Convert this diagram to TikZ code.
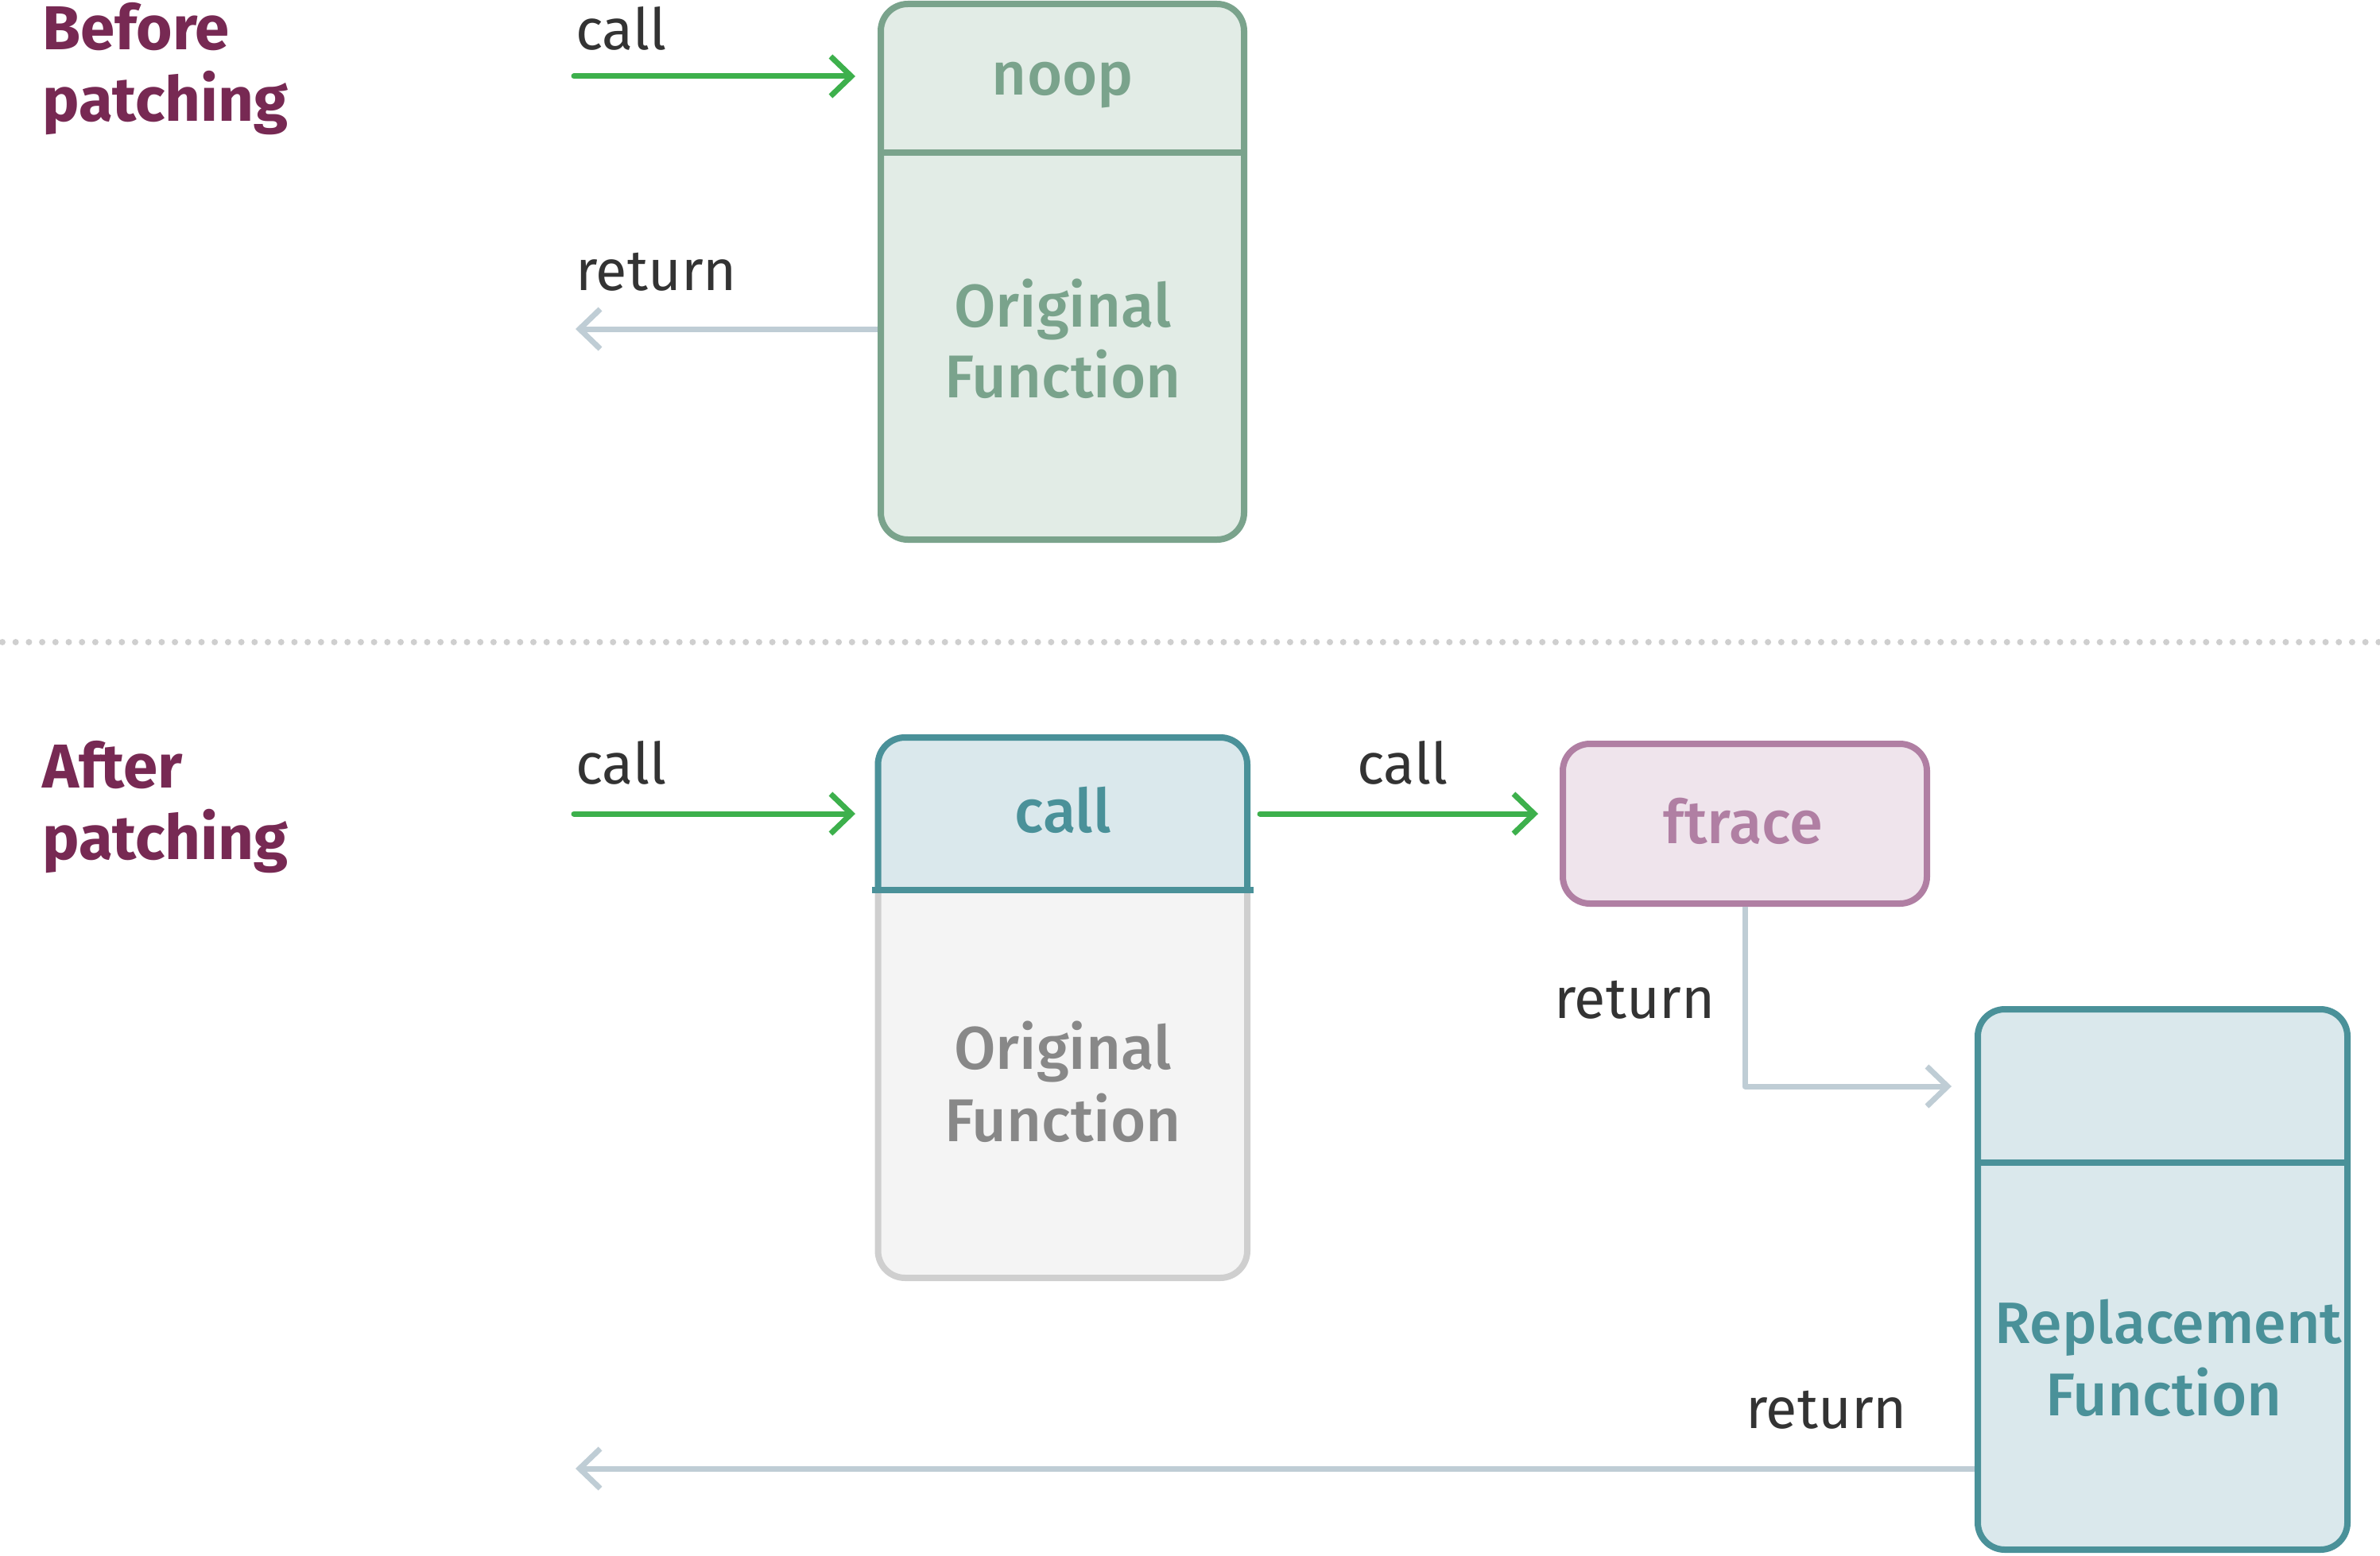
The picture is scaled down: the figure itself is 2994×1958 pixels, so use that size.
\documentclass[tikz,border=0pt]{standalone}
\usepackage{fontspec}
\setmainfont{Fira Sans}
\newfontfamily\medfont{Fira Sans Medium}
\usetikzlibrary{arrows.meta}
\definecolor{aubergine}{HTML}{772953}
\definecolor{darktext}{HTML}{333333}
\definecolor{callgreen}{HTML}{3DB04C}
\definecolor{retgray}{HTML}{BFCDD5}
\definecolor{noopfill}{HTML}{E2ECE6}
\definecolor{noopdraw}{HTML}{7AA38C}
\definecolor{tealfill}{HTML}{DAE8EC}
\definecolor{tealdraw}{HTML}{4A9199}
\definecolor{grayfill}{HTML}{F4F4F4}
\definecolor{graydraw}{HTML}{CFCFCF}
\definecolor{graytext}{HTML}{888888}
\definecolor{ftfill}{HTML}{EFE4EC}
\definecolor{ftdraw}{HTML}{B07FA3}
\definecolor{dotgray}{HTML}{CFCFCF}
\begin{document}
\begin{tikzpicture}[x=1pt,y=-1pt,
  lbl/.style={font=\fontsize{72}{86}\selectfont, text=darktext, inner sep=0pt, anchor=base west},
  ttl/.style={font=\fontsize{78}{90}\selectfont\bfseries, text=aubergine, inner sep=0pt, anchor=base west},
  boxtxt/.style={font=\fontsize{76}{90}\selectfont\medfont, inner sep=0pt, anchor=base},
  fbox/.style={rectangle, rounded corners=34pt, line width=8pt, inner sep=0pt},
  callarrow/.style={draw=callgreen, line width=7pt, line cap=round, -{Straight Barb[length=26pt,width=50pt]}},
  retarrow/.style={draw=retgray, line width=7pt, -{Straight Barb[length=26pt,width=50pt]}},
]
\useasboundingbox (0,0) rectangle (2994,1958);

% ---------- Before patching ----------
\node[ttl] (t1a) at (53,63) {Before};
\node[ttl] (t1b) at (53,153) {patching};

\node[fbox, fill=noopfill, draw=noopdraw, minimum width=457pt, minimum height=674pt] (fnA) at (1336.5,342) {};
\coordinate (divA) at (0,192);
\draw[noopdraw, line width=8pt] (fnA.west |- divA) -- (fnA.east |- divA);
\node[boxtxt, text=noopdraw] (noop) at (1337,120) {noop};
\node[boxtxt, text=noopdraw] (origA1) at (1337,411) {Original};
\node[boxtxt, text=noopdraw] (origA2) at (1337,500) {Function};

\coordinate (callAs) at (722,96);
\node[lbl] (callA) at (724,63) {call};
\draw[callarrow, shorten >=28pt] (callAs) -- (fnA.west |- callAs);

\coordinate (retAe) at (724,414);
\node[lbl] (retA) at (724,365) {return};
\draw[retarrow] (fnA.west |- retAe) -- (retAe);

% ---------- separator ----------
\coordinate (sepL) at (3,808);
\coordinate (sepR) at (2994,808);
\draw[dotgray, line width=8pt, line cap=round, dash pattern=on 0pt off 16.7pt] (sepL) -- (sepR);

% ---------- After patching ----------
\node[ttl] (t2a) at (53,991) {After};
\node[ttl] (t2b) at (53,1081) {patching};

% call box (original function, patched)
\node[fbox, fill=grayfill, draw=graydraw, minimum width=464.5pt, minimum height=680pt] (fnB) at (1336.75,1268) {};
\coordinate (divB) at (0,1120);
\begin{scope}
  \clip ([xshift=-10pt,yshift=10pt]fnB.north west) rectangle ([xshift=10pt]fnB.east |- divB);
  \node[fbox, fill=tealfill, draw=tealdraw, minimum width=464.5pt, minimum height=680pt] (fnBtop) at (fnB.center) {};
\end{scope}
\draw[tealdraw, line width=8pt] ([xshift=-3.5pt]fnB.west |- divB) -- ([xshift=3.5pt]fnB.east |- divB);
\node[boxtxt, text=tealdraw] (callB) at (1337,1047) {call};
\node[boxtxt, text=graytext] (origB1) at (1337,1345) {Original};
\node[boxtxt, text=graytext] (origB2) at (1337,1436) {Function};

\coordinate (callBs) at (722,1024);
\node[lbl] (callBl) at (724,986) {call};
\draw[callarrow, shorten >=24.5pt] (callBs) -- (fnB.west |- callBs);

% ftrace box
\node[fbox, fill=ftfill, draw=ftdraw, minimum width=458pt, minimum height=201pt] (ft) at (2195,1036.5) {};
\node[boxtxt, text=ftdraw] (fttxt) at (2193,1061) {ftrace};

\node[lbl] (callCl) at (1707,986) {call};
\draw[callarrow, shorten <=12pt, shorten >=27pt] (fnB.east |- callBs) -- (ft.west |- callBs);

% replacement box
\node[fbox, fill=tealfill, draw=tealdraw, minimum width=465pt, minimum height=680pt] (rep) at (2720.5,1610) {};
\coordinate (divC) at (0,1463);
\draw[tealdraw, line width=8pt] (rep.west |- divC) -- (rep.east |- divC);
\node[boxtxt, text=tealdraw, font=\fontsize{73.5}{90}\selectfont\medfont] (rep1) at (2728,1690) {Replacement};
\node[boxtxt, text=tealdraw] (rep2) at (2722,1781) {Function};

% return from ftrace to replacement
\coordinate (retCc) at (2195,1367);
\node[lbl, anchor=base east] (retCl) at (2158,1281) {return};
\draw[retarrow, line join=round] (ft.south) -- (retCc) -- ([xshift=-29pt]rep.west |- retCc);

% final return
\coordinate (retDe) at (724,1848);
\node[lbl] (retDl) at (2196,1797) {return};
\draw[retarrow] (rep.west |- retDe) -- (retDe);
\end{tikzpicture}
\end{document}
